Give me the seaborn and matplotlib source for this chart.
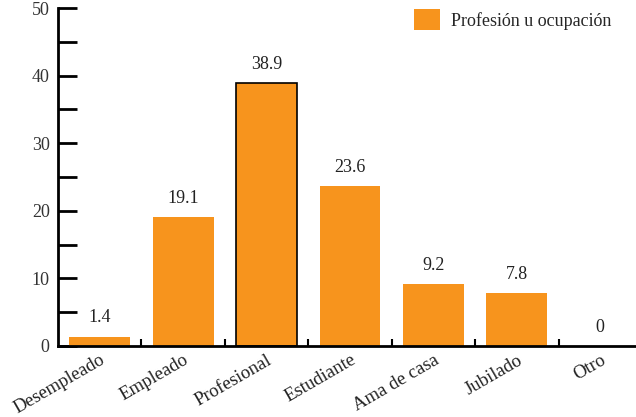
import matplotlib
matplotlib.use("Agg")
import matplotlib.pyplot as plt
import seaborn as sns
import numpy as np
import pandas as pd
from matplotlib.patches import Patch

categorias = ["Desempleado", "Empleado", "Profesional", "Estudiante",
              "Ama de casa", "Jubilado", "Otro"]
valores = [1.4, 19.1, 38.9, 23.6, 9.2, 7.8, 0]
etiquetas = ["1.4", "19.1", "38.9", "23.6", "9.2", "7.8", "0"]
serie = "Profesión u ocupación"
naranja = "#F7941D"

sns.set_style("white")
plt.rcParams["font.family"] = ["Liberation Serif", "DejaVu Serif"]

df = pd.DataFrame({"cat": categorias, "val": valores})

fig = plt.figure(figsize=(6.36, 4.17), dpi=100)
ax = fig.add_axes([58 / 636, 71 / 417, 584 / 636, 338 / 417])

sns.barplot(data=df, x="cat", y="val", color=naranja, width=0.73,
            saturation=1, ax=ax)
for i, p in enumerate(ax.patches):
    if i == 2:
        p.set_edgecolor("black")
        p.set_linewidth(1.2)
    else:
        p.set_edgecolor("none")

for i, (v, t) in enumerate(zip(valores, etiquetas)):
    ax.text(i, v + 1.5, t, ha="center", va="bottom", fontsize=13, color="#222222")

ax.set_xlim(-0.5, 6.5)
ax.set_ylim(0, 50)
ax.set_xlabel("")
ax.set_ylabel("")

for s in ["top", "right"]:
    ax.spines[s].set_visible(False)
for s in ["left", "bottom"]:
    ax.spines[s].set_linewidth(2)
    ax.spines[s].set_color("black")

ax.set_yticks(np.arange(0, 51, 10))
ax.set_yticks(np.arange(5, 50, 10), minor=True)
ax.tick_params(axis="y", which="both", left=True, direction="in", length=14,
               width=2, colors="black", labelsize=13, pad=6)
for lbl in ax.get_yticklabels():
    lbl.set_color("#333333")

ax.set_xticks(range(len(categorias)))
ax.set_xticklabels(categorias, rotation=30, ha="right", rotation_mode="anchor",
                   fontsize=13.5, color="#222222")
ax.set_xticks(np.arange(0.5, 6.5, 1), minor=True)
ax.tick_params(axis="x", which="major", bottom=True, length=0, pad=4)
ax.tick_params(axis="x", which="minor", bottom=True, direction="in", length=5,
               width=1.5, colors="black")

ax.legend(handles=[Patch(facecolor=naranja, edgecolor="none", label=serie)],
          loc="upper right", bbox_to_anchor=(0.975, 1.045), frameon=False,
          fontsize=13, handlelength=1.45, handleheight=1.45, handletextpad=0.6)

fig.savefig("out.png", dpi=100)
